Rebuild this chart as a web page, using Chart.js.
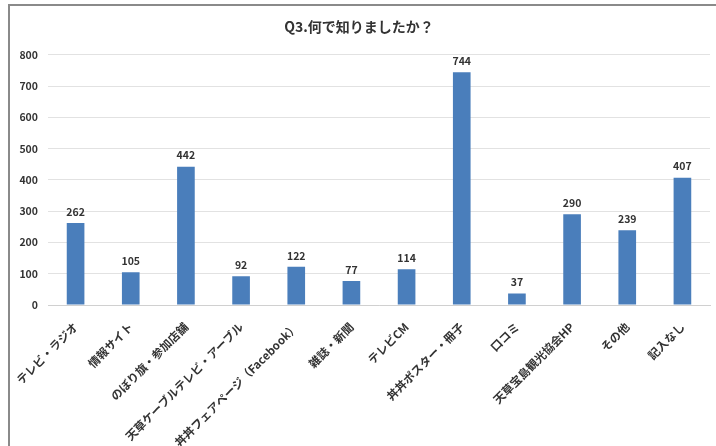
<!DOCTYPE html>
<html>
<head>
<meta charset="utf-8">
<script src="https://cdn.jsdelivr.net/npm/chart.js@4"></script>
<style>
  body { margin:0; background:#fff; }
  #wrap { position:relative; width:716px; height:446px; overflow:hidden; }
  #frame { position:absolute; left:8px; top:4px; width:720px; height:440px;
           border-top:2px solid #8a8a8a; border-left:2px solid #8a8a8a; border-bottom:1px solid #e4e4e4; }
  #c { position:absolute; left:0; top:0; }
</style>
</head>
<body>
<div id="wrap">
  <div id="frame"></div>
  <canvas id="c" width="716" height="446"></canvas>
</div>
<script>
const title = 'Q3.何で知りましたか？';
const categories = ['テレビ・ラジオ','情報サイト','のぼり旗・参加店舗','天草ケーブルテレビ・アーブル','丼丼フェアページ（Facebook）','雑誌・新聞','テレビCM','丼丼ポスター・冊子','口コミ','天草宝島観光協会HP','その他','記入なし'];
const counts = [262,105,442,92,122,77,114,744,37,290,239,407];
const yTicks = [0,100,200,300,400,500,600,700,800];

const FONT = '"Noto Sans CJK JP", "Noto Sans", sans-serif';

// value labels above bars
const valueLabels = {
  id:'valueLabels',
  afterDatasetsDraw(chart){
    const ctx = chart.ctx;
    ctx.save();
    ctx.font = 'bold 10.5px ' + FONT;
    ctx.fillStyle = '#333';
    ctx.textAlign = 'center';
    ctx.textBaseline = 'bottom';
    chart.getDatasetMeta(0).data.forEach((bar,i)=>{
      ctx.fillText(counts[i], bar.x, bar.y - 6);
    });
    ctx.restore();
  }
};

new Chart(document.getElementById('c'), {
  type:'bar',
  data:{ labels:categories, datasets:[{ data:counts, backgroundColor:'#4a7ebb', borderColor:'#4a7ebb', borderWidth:0,
    barPercentage:0.32, categoryPercentage:1 }] },
  options:{
    responsive:false, animation:false,
    layout:{ padding:{ left:8, right:6, top:4, bottom:0 } },
    plugins:{
      legend:{ display:false }, tooltip:{ enabled:false },
      title:{ display:true, text:title, color:'#333', font:{ family:FONT, size:14, weight:'bold' }, padding:{ top:14, bottom:20 } }
    },
    scales:{
      x:{
        grid:{ display:false },
        border:{ color:'#d0d0d0' },
        ticks:{ color:'#333', font:{ family:FONT, size:11.5, weight:'bold' }, minRotation:45, maxRotation:45, autoSkip:false, padding:7 },
        afterFit: s => { s.height = 141; }
      },
      y:{
        min:0, max:800,
        afterBuildTicks: s => { s.ticks = yTicks.map(v=>({value:v})); },
        grid:{ color:'#e2e2e2', drawTicks:false },
        border:{ display:false },
        ticks:{ color:'#333', font:{ family:FONT, size:10.5, weight:'bold' }, padding:10 },
        afterFit: s => { s.width = 40; }
      }
    }
  },
  plugins:[valueLabels]
});
</script>
</body>
</html>
